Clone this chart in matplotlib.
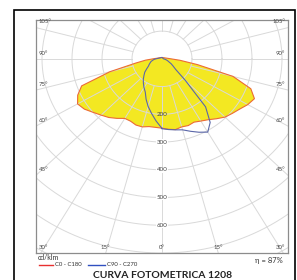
import numpy as np
import matplotlib
matplotlib.use("Agg")
import matplotlib.pyplot as plt
from matplotlib.patches import Rectangle

plt.rcParams["font.family"] = ["Lato", "DejaVu Sans"]

# angle from nadir (deg) and luminous intensity (cd/klm), one list per half-plane
gamma = [0, 5, 10, 15, 20, 25, 30, 35, 40, 45, 50, 55, 60, 65, 70, 75, 80, 85, 90, 180]
c0 = [250, 255, 259, 254, 256, 252, 259, 268, 282, 297, 306, 316, 330, 340, 315, 245, 120, 60, 30, 5]
c180 = [250, 248, 248, 254, 254, 248, 248, 262, 276, 287, 300, 316, 325, 310, 285, 180, 90, 55, 30, 5]
c90 = [252, 256, 260, 265, 278, 292, 305, 280, 226, 110, 60, 45, 35, 25, 20, 15, 10, 8, 5, 5]
c270 = [251, 225, 200, 178, 155, 132, 120, 108, 97, 85, 75, 62, 52, 47, 42, 38, 32, 27, 20, 5]

ring_values = [200, 300, 400, 500, 600]
angle_ticks = [0, 15, 30, 45, 60, 75, 90, 105]
eta = "η = 87%"
title = "CURVA FOTOMETRICA 1208"

XMAX, YMIN, YMAX = 420, -700, 140


def closed_curve(right, left):
    g = np.radians(gamma)
    r1, r2 = np.asarray(right, float), np.asarray(left, float)
    x = np.concatenate([r1 * np.sin(g), -(r2 * np.sin(g))[::-1]])
    y = np.concatenate([-r1 * np.cos(g), (-r2 * np.cos(g))[::-1]])
    return x, y


W, H = 297, 280
fig = plt.figure(figsize=(W / 100, H / 100), dpi=100)
ax = fig.add_axes([36 / W, 1 - 253 / H, 252 / W, 233 / H])
ax.set_xlim(-XMAX, XMAX)
ax.set_ylim(YMIN, YMAX)
ax.set_xticks([]); ax.set_yticks([])
for s in ax.spines.values():
    s.set_color("#8c8c8c"); s.set_linewidth(0.9)

# photometric curves
xr, yr = closed_curve(c0, c180)
ax.fill(xr, yr, color="#f3e822", zorder=1, lw=0)
ax.plot(xr, yr, color="#ec6a35", lw=0.8, zorder=4)
xb, yb = closed_curve(c90, c270)
ax.plot(xb, yb, color="#5a66a8", lw=0.8, zorder=5)

# polar grid
grid_c = "#d9d9d9"
t = np.linspace(0, 2 * np.pi, 400)
for r in range(100, 900, 100):
    ax.plot(r * np.cos(t), r * np.sin(t), color=grid_c, lw=0.7, zorder=2)
for a in range(0, 360, 15):
    ar = np.radians(a)
    ax.plot([100 * np.sin(ar), 1200 * np.sin(ar)], [-100 * np.cos(ar), -1200 * np.cos(ar)],
            color=grid_c, lw=0.7, zorder=2)

# radius labels along nadir
for v in ring_values:
    bb = None if v == 200 else dict(fc="white", ec="none", pad=0.3)
    ax.text(0, -v, str(v), ha="center", va="center", fontsize=4.5, color="#444444",
            zorder=6, bbox=bb)

# angle labels
for a in angle_ticks:
    ar = np.radians(a)
    if a >= 45:
        yv = -XMAX / np.tan(ar) if a != 90 else 0.0
        for sgn, ha in ((-1, "left"), (1, "right")):
            ax.text(sgn * 410, yv + 12, f"{a}°", ha=ha, va="bottom", fontsize=4.3,
                    color="#444444", zorder=6)
    else:
        xv = -YMIN * np.tan(ar)
        for sgn in ((1,) if a == 0 else (-1, 1)):
            ax.text(sgn * min(xv, 395), YMIN + 12, f"{a}°", ha="center", va="bottom",
                    fontsize=4.3, color="#444444", zorder=6)

# outer frame
fig.patches.append(Rectangle((14 / W, -0.1), 281 / W, 1.1 - 10 / H, transform=fig.transFigure,
                             fill=False, ec="black", lw=1.2))

# legend / footer
fig.text(38 / W, 1 - 260 / H, "cd/klm", fontsize=5, color="#333333")
fig.add_artist(plt.Line2D([39 / W, 53 / W], [1 - 264.5 / H] * 2, color="#e83030", lw=1.0))
fig.text(55 / W, 1 - 264.5 / H, "C0 - C180", fontsize=4.3, va="center", color="#333333")
fig.add_artist(plt.Line2D([88 / W, 105 / W], [1 - 264.5 / H] * 2, color="#3050c0", lw=1.0))
fig.text(107 / W, 1 - 264.5 / H, "C90 - C270", fontsize=4.3, va="center", color="#333333")
fig.text(283 / W, 1 - 261 / H, eta, fontsize=5.5, ha="right", va="center", color="#333333")
fig.text(163 / W, 1 - 278 / H, title, fontsize=7.5, fontweight="bold", ha="center",
         va="baseline", color="#222222")

fig.savefig("out.png", dpi=100, facecolor="white")
